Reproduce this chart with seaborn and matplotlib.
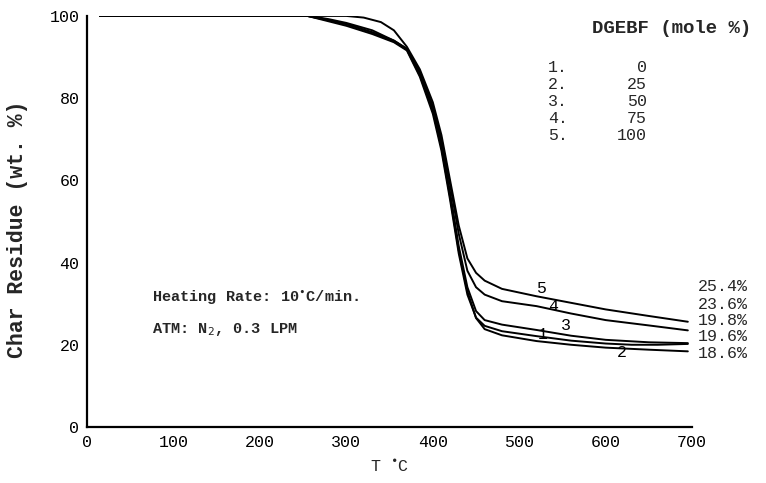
import numpy as np
import pandas as pd
import matplotlib
matplotlib.use("Agg")
import matplotlib.pyplot as plt
import seaborn as sns

# ---- data ----
T1 = [15, 255, 300, 330, 355, 370, 385, 400, 410, 420, 430, 440, 450, 460, 480, 520, 560, 600, 630, 660, 695]
W1 = [100, 100, 97.6, 95.6, 93.6, 91.6, 85.2, 76.2, 67.2, 55.2, 42.2, 32.2, 26.6, 24.6, 23.3, 22.1, 21.0, 20.3, 20.0, 20.0, 20.2]

T2 = [15, 255, 300, 330, 355, 370, 385, 400, 410, 420, 430, 440, 450, 460, 480, 520, 560, 600, 650, 695]
W2 = [100, 100, 98.0, 96.0, 93.8, 91.8, 85.6, 77.0, 68.0, 56.0, 43.0, 33.0, 26.5, 23.8, 22.3, 20.9, 20.0, 19.3, 18.8, 18.4]

T3 = [15, 258, 280, 300, 330, 355, 370, 385, 400, 410, 420, 430, 440, 450, 460, 480, 520, 560, 600, 650, 695]
W3 = [100, 100, 99.2, 98.3, 96.5, 94.0, 92.0, 86.0, 77.6, 69.0, 57.0, 44.0, 34.0, 28.2, 26.0, 24.9, 23.6, 22.2, 21.2, 20.6, 20.4]

T4 = [15, 255, 280, 300, 330, 355, 370, 385, 400, 410, 420, 430, 440, 450, 460, 480, 520, 560, 600, 650, 695]
W4 = [100, 100, 99.0, 98.0, 96.0, 94.0, 92.0, 86.5, 78.0, 70.0, 59.0, 47.0, 38.0, 34.0, 32.2, 30.6, 29.4, 27.6, 26.0, 24.7, 23.5]

T5 = [15, 300, 320, 340, 355, 370, 385, 400, 410, 420, 430, 440, 450, 460, 480, 520, 560, 600, 650, 695]
W5 = [100, 100, 99.6, 98.5, 96.5, 92.5, 87.0, 79.0, 71.0, 60.0, 49.0, 41.0, 37.5, 35.6, 33.6, 31.8, 30.2, 28.6, 27.0, 25.6]

curve_ids = ["1", "2", "3", "4", "5"]
dgebf = ["0", "25", "50", "75", "100"]
final_labels = ["25.4%", "23.6%", "19.8%", "19.6%", "18.6%"]
x_ticks = [0, 100, 200, 300, 400, 500, 600, 700]
y_ticks = [0, 20, 40, 60, 80, 100]

frames = []
for cid, T, W in zip(curve_ids, [T1, T2, T3, T4, T5], [W1, W2, W3, W4, W5]):
    frames.append(pd.DataFrame({"T": T, "W": W, "curve": cid}))
df = pd.concat(frames, ignore_index=True)

sns.set_style("white")
plt.rcParams["font.family"] = ["Liberation Mono", "DejaVu Sans Mono"]

fig = plt.figure(figsize=(7.66, 4.83), dpi=100)
ax = fig.add_axes([0.1136, 0.116, 0.790, 0.851])

sns.lineplot(data=df, x="T", y="W", units="curve", estimator=None,
             color="black", linewidth=1.4, ax=ax, sort=False)

ax.set_xlim(0, 700)
ax.set_ylim(0, 100)
ax.set_xticks(x_ticks)
ax.set_yticks(y_ticks)
ax.tick_params(axis="both", direction="inout", length=4, width=1.5, labelsize=12,
               color="black", labelcolor="black")
for s in ["top", "right"]:
    ax.spines[s].set_visible(False)
for s in ["left", "bottom"]:
    ax.spines[s].set_color("black")
    ax.spines[s].set_linewidth(1.6)

ax.set_xlabel("T $^{\\bullet}$C", fontsize=12, labelpad=6)
ax.set_ylabel("Char Residue (wt. %)", fontsize=15.5, fontweight="bold")
ax.yaxis.set_label_coords(-0.097, 0.48)

# curve number labels
num_pos = {"5": (525, 33.6), "4": (539, 29.4), "3": (554, 24.6), "1": (527, 22.4), "2": (619, 18.2)}
for cid in curve_ids:
    x, y = num_pos[cid]
    ax.text(x, y, cid, fontsize=12, ha="center", va="center", color="black")

# end values
end_y = [34.1, 29.9, 26.0, 21.9, 17.8]
for lab, y in zip(final_labels, end_y):
    ax.text(707, y, lab, fontsize=12, ha="left", va="center", clip_on=False)

# legend block
ax.text(584, 97.0, "DGEBF (mole %)", fontsize=13.7, fontweight="bold", ha="left", va="center")
leg_y = [87.5, 83.3, 79.2, 75.0, 70.8]
for cid, v, y in zip(curve_ids, dgebf, leg_y):
    ax.text(533, y, cid + ".", fontsize=12, ha="left", va="center")
    ax.text(648, y, v, fontsize=12, ha="right", va="center")

ax.text(75, 31.5, "Heating Rate: 10$^{\\bullet}$C/min.", fontsize=11, fontweight="bold",
        ha="left", va="center")
ax.text(75, 23.7, "ATM: N$_2$, 0.3 LPM", fontsize=11, fontweight="bold", ha="left", va="center")

fig.savefig("out.png", dpi=100)
